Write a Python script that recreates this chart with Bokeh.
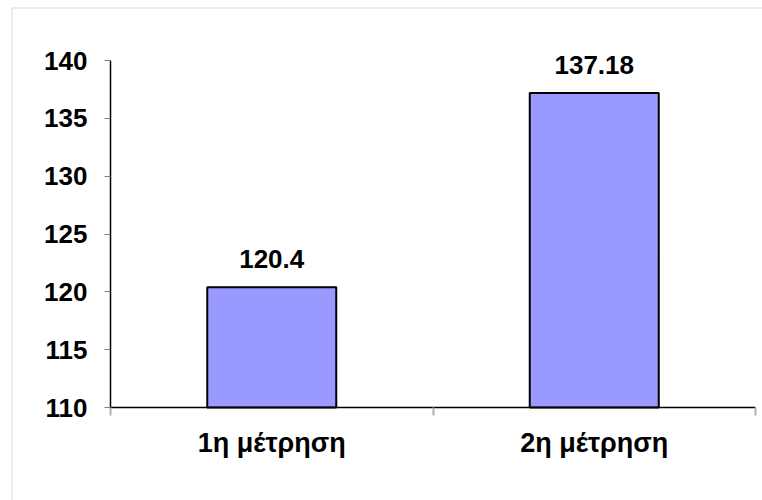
from bokeh.plotting import figure
from bokeh.models import (ColumnDataSource, FixedTicker, LabelSet, Range1d,
                          LinearAxis, BoxAnnotation)
from bokeh.core.properties import value
from bokeh.embed import file_html
from bokeh.resources import INLINE

# data
categories = ["1η μέτρηση", "2η μέτρηση"]
values = [120.4, 137.18]
value_labels = ["120.4", "137.18"]
y_ticks = [110, 115, 120, 125, 130, 135, 140]

FONT = "Liberation Sans"

# layout (pixels)
W, H = 762, 500
FR_L, FR_T = 10, 6                       # frame (drawing region) origin
AX_L, AX_R, AX_T, AX_B = 110, 755, 60, 407  # plot area inside it
BORDER_X, BORDER_Y = 11.5, 7.5           # outer chart border

n = len(categories)
y0, y1 = y_ticks[0], y_ticks[-1]
xpx = (AX_R - AX_L) / n
ypx = (AX_B - AX_T) / (y1 - y0)
x_range = Range1d(0 - (AX_L - FR_L) / xpx, n + (W - AX_R) / xpx)
y_range = Range1d(y0 - (H - AX_B) / ypx, y1 + (AX_T - FR_T) / ypx)

positions = [i + 0.5 for i in range(n)]
src = ColumnDataSource(dict(x=positions, top=values, lab=value_labels))

p = figure(width=W, height=H, output_backend="svg", toolbar_location=None,
           x_range=x_range, y_range=y_range,
           x_axis_type=None, y_axis_type=None,
           min_border_left=FR_L, min_border_right=0, min_border_top=FR_T,
           min_border_bottom=0)
p.grid.visible = False
p.outline_line_color = None
p.background_fill_color = "white"
p.border_fill_color = "white"

p.vbar(x="x", top="top", bottom=y0, width=0.4, source=src,
       fill_color="#9999FF", line_color="black", line_width=2)

labels = LabelSet(x="x", y="top", text="lab", source=src, text_align="center",
                  text_baseline="alphabetic", y_offset=19,
                  text_font=value(FONT), text_font_style="bold",
                  text_font_size="26px", text_color="black")
p.add_layout(labels)

yax = LinearAxis(ticker=FixedTicker(ticks=y_ticks, minor_ticks=[]),
                 fixed_location=0, bounds=(y0, y1))
yax.axis_line_color = "black"
yax.axis_line_width = 1.5
yax.major_tick_line_color = "#808080"
yax.major_tick_out = 6
yax.major_tick_in = 0
yax.minor_tick_line_color = None
yax.major_label_standoff = 17
yax.major_label_text_font = FONT
yax.major_label_text_font_style = "bold"
yax.major_label_text_font_size = "26px"
yax.major_label_text_color = "black"
p.add_layout(yax, "left")

xax = LinearAxis(ticker=FixedTicker(ticks=positions,
                                    minor_ticks=list(range(n + 1))),
                 fixed_location=y0, bounds=(0, n))
xax.major_label_overrides = {pos: c for pos, c in zip(positions, categories)}
xax.axis_line_color = "black"
xax.axis_line_width = 1.5
xax.major_tick_line_color = None
xax.major_tick_out = 0
xax.major_tick_in = 0
xax.minor_tick_line_color = "#b0b0b0"
xax.minor_tick_line_width = 2
xax.minor_tick_out = 8
xax.minor_tick_in = 0
xax.major_label_standoff = 12
xax.major_label_text_font = FONT
xax.major_label_text_font_style = "bold"
xax.major_label_text_font_size = "27px"
xax.major_label_text_color = "black"
p.add_layout(xax, "below")

border = BoxAnnotation(left=BORDER_X - FR_L, right=5000,
                       top=H - BORDER_Y, bottom=-5000,
                       left_units="screen", right_units="screen",
                       top_units="screen", bottom_units="screen",
                       fill_alpha=0, line_color="#808080", line_width=1)
p.add_layout(border)

open("out.html", "w").write(file_html(p, INLINE))
